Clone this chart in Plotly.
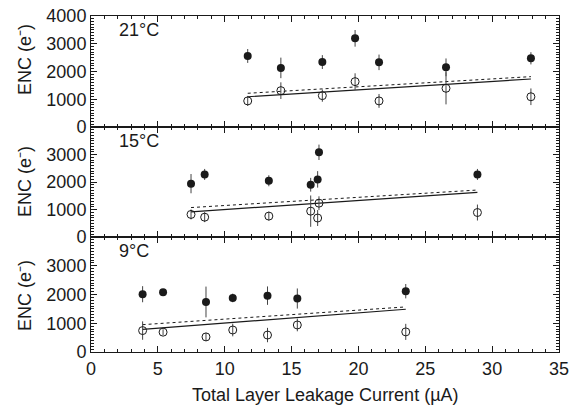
import plotly.graph_objects as go
from plotly.subplots import make_subplots

# ---- data ----
labels = ["21°C", "15°C", "9°C"]

x21 = [11.72, 14.2, 17.3, 19.75, 21.54, 26.55, 32.9]
f21 = [2560, 2130, 2340, 3195, 2330, 2150, 2475]
fe21 = [250, 370, 250, 300, 280, 320, 220]
o21 = [940, 1310, 1130, 1635, 940, 1395, 1090]
oe21 = [180, 300, 220, 300, 250, 580, 300]
sx21 = [11.72, 32.9]; s21 = [1090, 1730]; d21 = [1215, 1815]

x15 = [7.48, 8.5, 13.3, 16.43, 16.95, 17.05, 28.9]
f15 = [1940, 2275, 2045, 1900, 2095, 3080, 2275]
fe15 = [350, 200, 200, 250, 300, 280, 200]
o15 = [820, 720, 760, 940, 690, 1230, 890]
oe15 = [180, 180, 160, 570, 290, 250, 290]
sx15 = [7.48, 28.9]; s15 = [913, 1625]; d15 = [1070, 1708]

x9 = [3.86, 5.39, 8.6, 10.6, 13.2, 15.43, 23.54]
f9 = [2010, 2080, 1740, 1880, 1960, 1860, 2115]
fe9 = [280, 100, 535, 150, 320, 350, 250]
o9 = [745, 690, 525, 765, 590, 940, 700]
oe9 = [320, 100, 140, 220, 250, 220, 280]
sx9 = [3.86, 23.54]; s9 = [790, 1487]; d9 = [951, 1568]

y_title = "ENC (e\u207b)"
x_title = "Total Layer Leakage Current (µA)"

panels = [
    (x21, f21, fe21, o21, oe21, sx21, s21, d21),
    (x15, f15, fe15, o15, oe15, sx15, s15, d15),
    (x9, f9, fe9, o9, oe9, sx9, s9, d9),
]

W, H = 584, 408
L, R, T, B = 91, 25, 16, 56
ph = H - T - B  # 336
pw = W - L - R
bounds = [(16, 127), (127, 237), (237, 352)]
ytitle_centers = [60, 182, 296]

fig = make_subplots(rows=3, cols=1, shared_xaxes=True, vertical_spacing=0)

ink = "#1a1a1a"
for i, (xs, fv, fe, ov, oe, lx, sv, dv) in enumerate(panels):
    r = i + 1
    fig.add_trace(go.Scatter(x=lx, y=dv, mode="lines",
                             line=dict(color=ink, width=1, dash="dot"),
                             showlegend=False), row=r, col=1)
    fig.add_trace(go.Scatter(x=lx, y=sv, mode="lines",
                             line=dict(color=ink, width=1.2),
                             showlegend=False), row=r, col=1)
    fig.add_trace(go.Scatter(x=xs, y=fv, mode="markers",
                             marker=dict(symbol="circle", size=8, color=ink),
                             error_y=dict(type="data", array=fe, width=0,
                                          thickness=1, color="#444"),
                             showlegend=False), row=r, col=1)
    fig.add_trace(go.Scatter(x=xs, y=ov, mode="markers",
                             marker=dict(symbol="circle-open", size=8, color=ink,
                                         line=dict(width=1)),
                             error_y=dict(type="data", array=oe, width=0,
                                          thickness=1, color="#444"),
                             showlegend=False), row=r, col=1)

font = dict(family="Liberation Sans, Arial, sans-serif", size=18, color=ink)

def py(pix):
    return (H - B - pix) / ph

for i, (top, bot) in enumerate(bounds):
    r = i + 1
    yk = "yaxis" if r == 1 else f"yaxis{r}"
    xk = "xaxis" if r == 1 else f"xaxis{r}"
    tv = [0, 1000, 2000, 3000, 4000] if r == 1 else [0, 1000, 2000, 3000]
    fig.layout[yk].update(
        domain=[py(bot), py(top)], range=[0, 4000], tickvals=tv,
        ticks="inside", ticklen=6, tickcolor=ink, mirror="ticks",
        showline=True, linecolor=ink, linewidth=1, showgrid=False,
        zeroline=False, tickfont=font, automargin=False,
        minor=dict(dtick=100, ticks="inside", ticklen=3, tickcolor=ink, showgrid=False),
    )
    fig.layout[xk].update(
        range=[0, 35], dtick=5, ticks="inside", ticklen=6, tickcolor=ink,
        mirror="ticks", showline=True, linecolor=ink, linewidth=1,
        showgrid=False, zeroline=False, tickfont=font, automargin=False,
        minor=dict(dtick=1, ticks="inside", ticklen=3, tickcolor=ink, showgrid=False),
        showticklabels=(r == 3),
    )
    fig.add_annotation(text=labels[i], xref="paper", yref="paper",
                       x=(117 - L) / pw, y=py(top + 14),
                       xanchor="left", yanchor="middle", showarrow=False, font=font)
    fig.add_annotation(text=y_title, xref="paper", yref="paper",
                       x=(25 - L) / pw, y=py(ytitle_centers[i]), textangle=-90,
                       xanchor="center", yanchor="middle", showarrow=False, font=font)

fig.add_annotation(text=x_title, xref="paper", yref="paper",
                   x=(325 - L) / pw, y=py(395), xanchor="center", yanchor="middle",
                   showarrow=False, font=font)

fig.update_layout(
    width=W, height=H, margin=dict(l=L, r=R, t=T, b=B, autoexpand=False),
    paper_bgcolor="white", plot_bgcolor="white",
)

fig.write_html("out.html")
